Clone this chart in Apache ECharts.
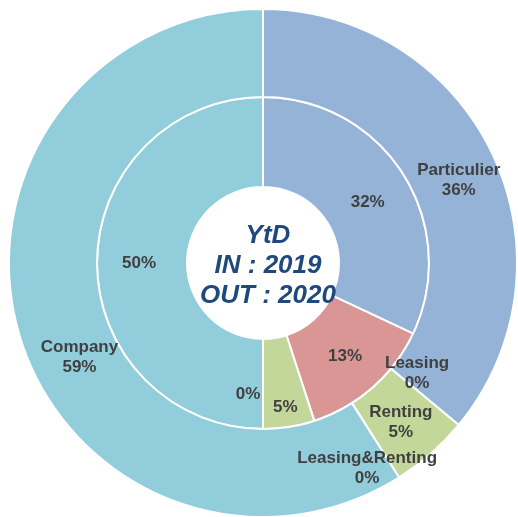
<!DOCTYPE html>
<html>
<head>
<meta charset="utf-8">
<script src="https://cdn.jsdelivr.net/npm/echarts@6/dist/echarts.min.js"></script>
<style>
  html, body { margin: 0; padding: 0; background: #fff; }
  #chart { width: 518px; height: 517px; }
</style>
</head>
<body>
<div id="chart"></div>
<script>
// categories, clockwise from 12 o'clock
const categories = ["Particulier", "Leasing", "Renting", "Leasing&Renting", "Company"];
// inner ring = IN 2019, outer ring = OUT 2020 (percent)
const values2019 = [32, 13, 5, 0, 50];
const values2020 = [36, 0, 5, 0, 59];
const centerLines = ["YtD", "IN : 2019", "OUT : 2020"];

const colors = ["#95B3D7", "#DA9694", "#C4D79B", "#92CDDC", "#92CDDC"];

// label nudges so they sit where the original put them
const innerNudge = { 0: [0, 6], 2: [3, 22], 3: [-15, 7] };
const outerNudge = { 0: [3, 8], 1: [-10, -25], 2: [-3, 0], 3: [-10, 25], 4: [21, 35] };

function toData(vals) {
  return vals.map((v, i) => ({
    name: categories[i],
    value: v,
    itemStyle: { color: colors[i] },
  }));
}

const labelBase = {
  show: true,
  position: "inside",
  color: "#404040",
  fontFamily: "Liberation Sans, Arial, sans-serif",
  fontWeight: "bold",
  fontSize: 17,
  lineHeight: 20,
  textBorderWidth: 0,
};

const chart = echarts.init(document.getElementById("chart"));
chart.setOption({
  animation: false,
  backgroundColor: "#fff",
  title: {
    text: centerLines.join("\n"),
    left: 263,
    top: 216,
    textAlign: "center",
    textStyle: {
      color: "#1F497D",
      fontFamily: "Liberation Sans, Arial, sans-serif",
      fontWeight: "bold",
      fontStyle: "italic",
      fontSize: 26,
      lineHeight: 30,
    },
  },
  series: [
    {
      name: "IN 2019",
      type: "pie",
      center: [263, 263],
      radius: [76, 166],
      startAngle: 90,
      clockwise: true,
      avoidLabelOverlap: false,
      itemStyle: { borderColor: "#fff", borderWidth: 2 },
      label: Object.assign({}, labelBase, { formatter: (p) => p.value + "%" }),
      labelLine: { show: false },
      labelLayout: (p) => {
        const n = innerNudge[p.dataIndex];
        return n ? { dx: n[0], dy: n[1] } : {};
      },
      emphasis: { disabled: true },
      data: toData(values2019),
    },
    {
      name: "OUT 2020",
      type: "pie",
      center: [263, 263],
      radius: [166, 254],
      startAngle: 90,
      clockwise: true,
      avoidLabelOverlap: false,
      itemStyle: { borderColor: "#fff", borderWidth: 2 },
      label: Object.assign({}, labelBase, { formatter: (p) => p.name + "\n" + p.value + "%" }),
      labelLine: { show: false },
      labelLayout: (p) => {
        const n = outerNudge[p.dataIndex];
        return n ? { dx: n[0], dy: n[1] } : {};
      },
      emphasis: { disabled: true },
      data: toData(values2020),
    },
  ],
});
</script>
</body>
</html>
